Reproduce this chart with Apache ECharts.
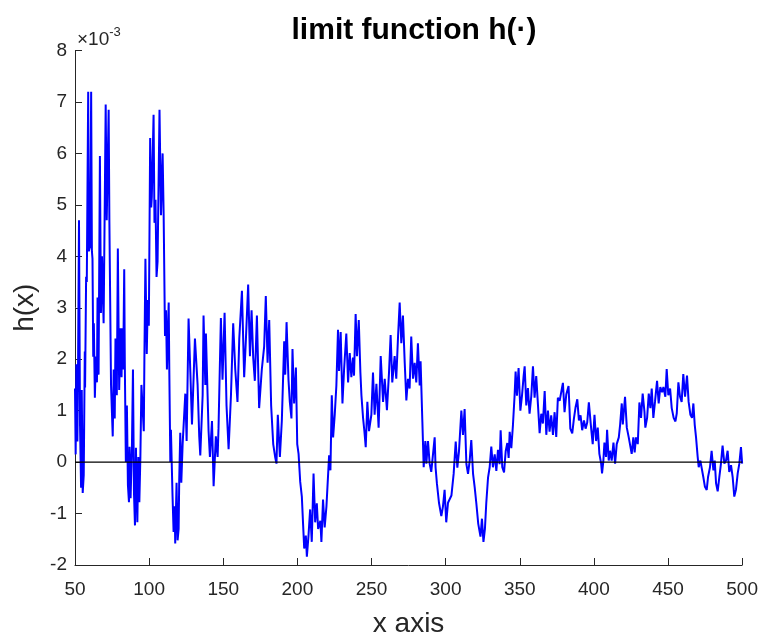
<!DOCTYPE html>
<html>
<head>
<meta charset="utf-8">
<script src="https://cdn.jsdelivr.net/npm/echarts@6/dist/echarts.min.js"></script>
<style>
html,body{margin:0;padding:0;background:#fff;}
#chart{width:761px;height:643px;}
</style>
</head>
<body>
<div id="chart"></div>
<script>
// x positions and h(x) values (in units of 1e-3)
const xValues = [50.0,50.45,50.9,51.6,52.05,52.7,53.4,54.1,54.55,55.2,55.9,56.6,56.8,57.5,57.95,58.9,59.3,60.2,60.9,61.4,61.8,62.3,62.7,63.4,64.1,64.8,65.2,65.9,66.8,67.5,68.2,69.3,70.7,71.4,72.7,73.2,74.3,75.45,76.1,76.8,77.3,78.2,78.9,79.8,80.7,81.4,81.8,82.5,83.2,83.6,84.3,85.0,85.7,86.4,86.8,87.5,88.4,89.1,89.8,90.45,91.1,92.05,92.7,93.4,94.1,94.8,95.7,96.4,96.8,97.5,98.4,99.1,99.8,100.7,101.4,101.8,103.0,103.6,104.3,105.0,105.7,107.0,108.0,109.1,109.8,110.7,111.4,112.0,113.2,113.6,114.3,114.7,115.8,116.5,117.2,117.6,118.5,119.2,119.9,120.3,121.0,121.7,122.6,123.5,124.4,125.3,126.6,127.8,128.9,130.9,132.7,133.8,134.5,136.1,136.7,137.9,138.3,140.1,141.0,142.4,143.5,145.0,146.2,146.8,148.4,149.5,150.9,152.2,153.6,155.2,156.7,158.1,159.6,160.8,162.6,164.1,165.3,166.8,168.0,169.1,170.2,171.3,172.7,174.2,176.0,177.6,178.7,179.9,181.0,182.3,183.7,185.0,185.9,186.8,188.2,189.5,191.1,191.8,192.7,194.0,194.9,196.0,196.7,197.8,199.0,199.9,200.8,201.9,203.0,203.9,204.6,205.7,206.4,207.5,208.6,209.7,210.9,212.0,213.1,214.0,215.5,216.2,217.3,218.4,219.6,220.5,221.4,222.3,223.2,224.1,225.2,226.3,227.4,228.1,229.2,230.4,231.5,233.0,234.2,235.3,236.4,237.5,238.2,239.3,240.2,241.4,242.5,243.2,244.3,245.2,246.1,247.2,248.3,249.9,251.0,252.1,253.3,254.8,256.2,257.8,258.9,260.4,261.8,262.9,264.0,265.6,266.7,267.9,269.0,270.1,271.2,272.4,273.5,274.6,275.7,276.8,278.0,279.1,280.2,281.3,282.5,283.1,284.3,285.2,286.3,287.0,288.1,289.2,290.3,291.4,292.6,293.2,294.1,295.5,297.1,298.2,299.3,300.4,301.6,303.9,305.4,306.8,307.9,309.0,310.6,311.7,312.8,314.0,315.1,316.2,317.3,318.5,319.6,320.7,322.0,323.5,324.5,325.5,326.5,327.4,328.6,329.7,330.8,331.9,333.1,334.2,335.3,336.4,337.1,338.2,339.4,340.5,341.6,342.5,343.2,344.3,345.4,346.5,347.2,348.1,349.2,350.4,351.5,352.6,353.3,354.4,355.5,356.6,357.8,358.9,360.0,361.1,362.3,363.4,364.5,365.6,366.8,367.9,369.0,370.1,371.2,372.4,373.5,374.6,375.7,376.9,378.0,379.1,380.2,381.4,382.9,384.1,385.4,386.5,387.6,388.8,389.9,391.0,392.1,393.3,394.4,395.5,396.6,398.1,399.2,400.4,401.5,402.6,403.7,404.9,405.5,406.4,407.1,408.2,408.9,410.0,410.9,412.0,413.2,414.3,415.4,416.8,417.7,418.8,419.5,421.0,422.2,423.5,424.4,425.5,426.6,427.5,428.4,429.6,430.7,431.8,432.9,434.1,434.7,435.9,437.0,438.1,439.0,440.1,441.2,442.6,443.7,444.8,446.0,446.9,448.2,449.1,450.2,451.4,452.5,453.8,455.0,455.9,457.0,458.1,459.2,460.3,461.5,462.8,463.9,465.1,466.2,467.1,468.0,468.9,470.0,470.7,471.8,472.9,473.8,474.9,476.1,477.0,478.3,479.4,480.6,481.5,482.4,483.5,484.6,485.7,486.8,488.0,489.1,490.2,491.3,492.5,493.6,494.7,495.8,497.0,498.1,499.2,500.0];
const hValues = [1.43,0.15,1.9,0.4,1.8,4.7,0.7,-0.5,1.4,-0.6,-0.25,2.15,1.45,3.6,3.5,7.2,4.1,4.2,7.2,4.1,3.95,2.05,2.7,1.25,2.05,1.55,3.2,1.7,5.95,2.9,4.0,2.7,6.95,4.7,6.85,4.65,1.5,0.5,1.8,0.85,2.4,1.3,4.15,1.4,2.6,1.65,2.6,1.8,3.75,1.9,0.0,1.1,-0.45,-0.78,0.3,-0.7,0.3,1.8,-0.62,-1.23,0.28,-1.17,0.1,-0.78,0.1,1.5,1.5,0.6,2.0,3.95,2.1,3.15,2.65,6.3,4.95,5.15,6.75,4.65,5.1,3.6,3.9,6.85,4.8,6.0,4.8,2.45,2.95,1.8,3.1,1.8,0.0,0.63,-0.67,-1.36,-0.86,-1.58,-0.4,-1.52,-1.3,-0.35,0.57,-0.4,0.35,0.32,1.33,0.41,2.79,1.75,0.73,2.4,1.5,0.5,0.13,1.3,2.85,1.5,2.5,0.6,0.1,0.8,-0.47,0.5,0.1,0.66,2.8,1.6,2.9,1.1,0.25,1.3,2.7,1.8,1.17,2.4,3.33,1.65,2.4,3.45,2.06,2.95,2.03,1.58,2.85,1.05,1.8,2.25,3.23,1.93,2.76,1.1,0.35,0.1,-0.03,0.92,0.1,0.8,2.35,1.7,2.72,1.6,1.17,0.85,2.2,1.14,1.84,0.35,0.16,-0.38,-0.67,-1.24,-1.68,-1.43,-1.84,-1.43,-0.92,-1.55,-0.22,-1.17,-0.8,-1.3,-1.14,-1.55,-0.73,-1.27,-0.86,-0.86,0.13,-0.16,1.3,0.48,0.92,1.49,2.57,1.77,2.53,1.14,1.8,2.5,1.55,2.12,1.65,2.03,1.68,2.88,2.06,2.76,1.74,1.3,0.86,0.6,0.29,1.17,0.6,0.92,1.74,0.92,1.52,0.67,2.06,1.17,1.62,1.01,1.74,2.47,1.55,2.06,1.62,2.44,3.1,2.31,2.85,1.93,1.2,1.62,1.43,2.44,1.62,1.93,1.55,2.31,1.49,1.96,0.79,-0.1,0.41,-0.03,0.41,-0.03,-0.19,0.13,0.48,-0.1,-0.41,-0.79,-1.05,-0.86,-0.54,-1.17,-0.79,-0.65,-0.23,0.4,-0.11,0.21,1.0,0.53,1.03,-0.04,-0.23,0.02,0.43,-0.23,-0.49,-0.8,-1.2,-1.45,-1.1,-1.55,-1.3,-0.8,-0.3,-0.1,0.3,-0.1,0.15,-0.17,0.24,-0.04,0.62,-0.1,-0.2,0.21,0.37,0.08,0.59,0.27,0.72,1.29,1.76,1.29,1.83,1.0,1.29,1.67,1.86,1.1,1.44,0.94,1.29,1.86,1.25,1.67,1.1,0.56,0.94,0.75,1.38,0.53,1.0,0.59,0.91,0.53,0.97,0.49,1.25,1.19,1.16,1.54,0.97,1.32,1.48,0.65,0.56,0.84,1.06,1.22,0.81,0.91,0.62,0.81,0.65,0.77,1.16,0.67,0.35,0.92,0.41,0.67,0.16,-0.03,-0.22,0.03,0.38,0.1,0.63,0.03,0.22,0.03,0.38,-0.03,0.35,0.48,0.73,1.14,0.73,1.27,0.67,0.48,0.48,0.16,0.48,0.19,0.48,0.35,1.16,0.86,1.33,0.98,0.67,0.86,1.33,1.05,1.43,0.86,1.17,1.58,1.14,1.46,1.36,1.46,1.27,1.81,1.3,1.43,1.05,0.86,0.79,0.95,1.55,1.27,1.17,1.71,1.27,1.68,1.17,0.92,0.86,1.14,0.73,0.48,0.1,-0.1,0.03,0.06,-0.29,-0.48,-0.54,-0.29,-0.1,0.22,-0.16,0.03,-0.41,-0.57,-0.29,-0.03,0.32,-0.03,0.03,0.22,-0.19,-0.06,-0.29,-0.67,-0.54,-0.22,-0.03,0.29,-0.03];
const zeroLineX = [50, 500];
const zeroLineY = [0, 0];
const xTicks = {min: 50, max: 500, step: 50};
const yTicks = {min: -2, max: 8, step: 1};

const seriesData = xValues.map((x, i) => [x, hValues[i]]);
const zeroData = zeroLineX.map((x, i) => [x, zeroLineY[i]]);

const FONT = '"Liberation Sans", Arial, Helvetica, sans-serif';
const AX = '#262626';
const chart = echarts.init(document.getElementById('chart'), null, {renderer: 'canvas'});
chart.setOption({
  animation: false,
  backgroundColor: '#ffffff',
  title: {
    text: 'limit function h(·)',
    left: 409, top: 11, textAlign: 'center',
    textStyle: {fontFamily: FONT, fontSize: 30, fontWeight: 'bold', color: '#000'}
  },
  grid: {left: 75, right: 18, top: 50.5, bottom: 70, containLabel: false},
  xAxis: {
    type: 'value', min: xTicks.min, max: xTicks.max, interval: xTicks.step,
    name: 'x axis', nameLocation: 'middle', nameGap: 45,
    nameTextStyle: {fontFamily: FONT, fontSize: 28, color: AX},
    axisLine: {show: true, onZero: false, lineStyle: {color: AX, width: 1}},
    axisTick: {show: true, inside: true, length: 7, lineStyle: {color: AX}},
    axisLabel: {fontFamily: FONT, fontSize: 19, color: AX, margin: 15},
    splitLine: {show: false}
  },
  yAxis: {
    type: 'value', min: yTicks.min, max: yTicks.max, interval: yTicks.step,
    name: 'h(x)', nameLocation: 'middle', nameGap: 27,
    nameTextStyle: {fontFamily: FONT, fontSize: 28, color: AX},
    axisLine: {show: true, onZero: false, lineStyle: {color: AX, width: 1}},
    axisTick: {show: true, inside: true, length: 7, lineStyle: {color: AX}},
    axisLabel: {fontFamily: FONT, fontSize: 19, color: AX, margin: 8},
    splitLine: {show: false}
  },
  graphic: [{
    type: 'text', left: 77, top: 26,
    style: {
      text: '{a|×10}{b|-3}',
      rich: {
        a: {fontFamily: FONT, fontSize: 19, fill: AX, padding: [7, 0, 0, 0]},
        b: {fontFamily: FONT, fontSize: 13, fill: AX, padding: [0, 0, 8, 0]}
      }
    }
  }],
  series: [{
    type: 'line', data: seriesData, showSymbol: false, symbol: 'none',
    lineStyle: {color: '#0000ff', width: 2}, z: 2
  }, {
    type: 'line', data: zeroData, showSymbol: false, symbol: 'none',
    lineStyle: {color: '#000000', width: 1.4}, z: 3
  }]
});
</script>
</body>
</html>
